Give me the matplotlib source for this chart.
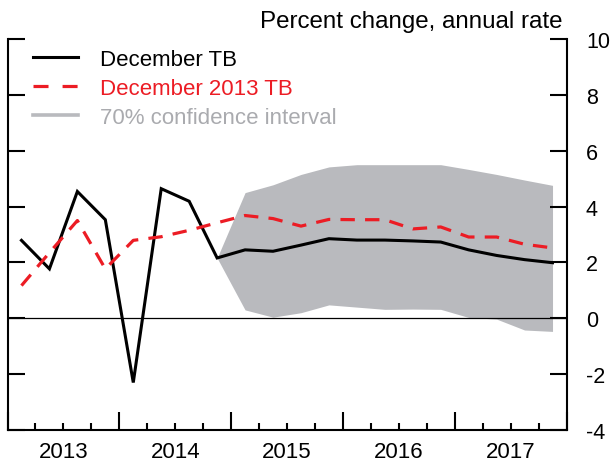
import matplotlib
matplotlib.use("Agg")
import matplotlib.pyplot as plt
from matplotlib.lines import Line2D
import numpy as np

plt.rcParams['font.family'] = ['Liberation Sans', 'DejaVu Sans']
plt.rcParams['axes.unicode_minus'] = False

# ---- data -------------------------------------------------------------
years = ['2013', '2014', '2015', '2016', '2017']
quarters_per_year = 4

december_tb = [2.79, 1.77, 4.54, 3.53, -2.3, 4.64, 4.19, 2.16,
               2.45, 2.40, 2.62, 2.85, 2.80, 2.80, 2.77, 2.73,
               2.45, 2.25, 2.10, 1.99]
december_2013_tb = [1.17, 2.35, 3.50, 1.77, 2.79, 2.92, 3.15, 3.42,
                    3.68, 3.57, 3.30, 3.54, 3.53, 3.53, 3.20, 3.27,
                    2.91, 2.91, 2.65, 2.52]
band_start = 7  # quarter index where the confidence interval begins
band_upper = [2.16, 4.50, 4.78, 5.15, 5.42, 5.50, 5.50, 5.50, 5.50,
              5.33, 5.15, 4.95, 4.76]
band_lower = [2.16, 0.30, 0.04, 0.20, 0.48, 0.40, 0.32, 0.33, 0.32,
              0.03, -0.03, -0.42, -0.47]

labels = ['December TB', 'December 2013 TB', '70% confidence interval']
title = 'Percent change, annual rate'
yticks = [-4, -2, 0, 2, 4, 6, 8, 10]

# ---- style ------------------------------------------------------------
RED = '#EC1C24'
GRAY = '#B9BABE'
GRAY_TXT = '#AAABAF'
YFS = 15.5
XFS = 16
LFS = 16

n = len(december_tb)
x = np.arange(n) + 0.5
xb = x[band_start:band_start + len(band_upper)]

fig = plt.figure(figsize=(6.13, 4.64), dpi=100)
ax = fig.add_axes([7.5 / 613, 1 - 431 / 464, (566.5 - 7.5) / 613, (431 - 40) / 464])

ax.fill_between(xb, band_lower, band_upper, color=GRAY, lw=0, zorder=1)
ax.axhline(0, color='black', lw=0.9, zorder=2)
ax.plot(x, december_tb, color='black', lw=2.2, zorder=3,
        solid_joinstyle='miter')
ax.plot(x, december_2013_tb, color=RED, lw=2.3, dashes=(4.5, 3.2), zorder=4)

ax.set_xlim(0, n)
ax.set_ylim(yticks[0], yticks[-1])

ax.spines['top'].set_visible(False)
for s in ['left', 'right', 'bottom']:
    ax.spines[s].set_linewidth(1.5)

ax.set_yticks(yticks)
ax.tick_params(axis='y', which='major', left=True, right=True,
               labelleft=False, labelright=True, direction='in',
               length=12, width=1.5, labelsize=YFS, pad=14)

n_years = len(years)
ax.set_xticks(np.arange(0, n + 1, quarters_per_year))
ax.set_xticks(np.arange(0, n + 1, 1), minor=True)
ax.tick_params(axis='x', which='major', direction='in', length=13,
               width=1.5, labelbottom=False)
ax.tick_params(axis='x', which='minor', direction='in', length=5,
               width=1.5)

sec = ax.secondary_xaxis('bottom')
sec.set_xticks(np.arange(n_years) * quarters_per_year + quarters_per_year / 2,
               labels=years)
sec.tick_params(length=0, labelsize=XFS, pad=8)
sec.spines['bottom'].set_visible(False)

handles = [
    Line2D([], [], color='black', lw=2.2),
    Line2D([], [], color=RED, lw=2.3, dashes=(4.7, 4.4)),
    Line2D([], [], color=GRAY, lw=2.6),
]
leg = ax.legend(handles, labels, loc='upper left',
                bbox_to_anchor=((33 - 7.5) / 559, (431 - 50) / 391),
                frameon=False, fontsize=LFS, handlelength=2.03,
                handletextpad=0.99, labelspacing=0.35, borderpad=0,
                borderaxespad=0)
for t, c in zip(leg.get_texts(), ['black', RED, GRAY_TXT]):
    t.set_color(c)

fig.text(563 / 613, 1 - 28.3 / 464, title, ha='right', va='baseline',
         fontsize=17.4)

fig.savefig('out.png', dpi=100)
